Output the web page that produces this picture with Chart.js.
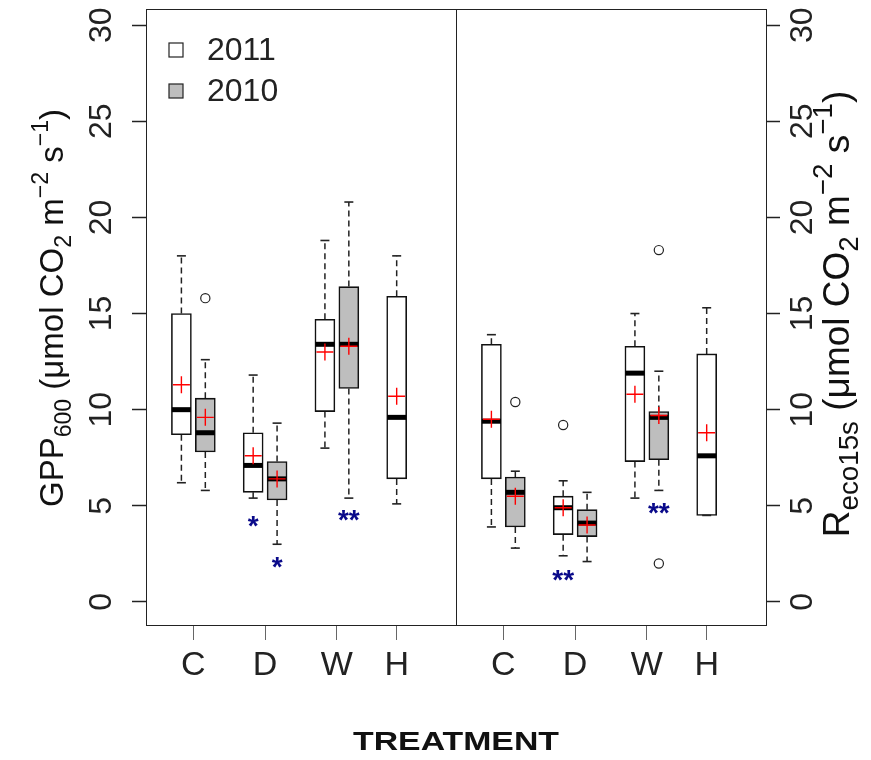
<!DOCTYPE html>
<html>
<head>
<meta charset="utf-8">
<script src="https://cdn.jsdelivr.net/npm/chart.js@4.4.1/dist/chart.umd.min.js"></script>
<style>
html, body { margin: 0; padding: 0; background: #ffffff; }
#wrap { position: relative; width: 871px; height: 760px; }
</style>
</head>
<body>
<div id="wrap"><canvas id="chart"></canvas></div>
<script>
// ---------------- data ----------------
const categories = ['C', 'D', 'W', 'H'];
const seriesLabels = ['2011', '2010'];
const yTickValues = [0, 5, 10, 15, 20, 25, 30];

// GPP600 panel: [lower whisker, Q1, median, Q3, upper whisker] per treatment
const gpp2011Box = [[6.2, 8.7, 10.0, 15.0, 18.0], [5.4, 5.7, 7.1, 8.8, 11.8], [8.0, 9.9, 13.4, 14.7, 18.8], [5.1, 6.4, 9.6, 15.9, 18.0]];
const gpp2010Box = [[5.8, 7.8, 8.8, 10.6, 12.6], [3.0, 5.3, 6.4, 7.3, 9.3], [5.4, 11.1, 13.4, 16.4, 20.8], null];
const gpp2011Mean = [11.3, 7.6, 13.0, 10.7];
const gpp2010Mean = [9.6, 6.4, 13.3, null];
const gpp2011Outliers = [[], [], [], []];
const gpp2010Outliers = [[15.8], [], [], []];
const gpp2011Stars = ['', '*', '', ''];
const gpp2010Stars = ['', '*', '**', ''];
const gpp2011StarY = [null, 4.3, null, null];
const gpp2010StarY = [null, 2.2, 4.6, null];

// Reco15s panel
const reco2011Box = [[3.9, 6.4, 9.4, 13.4, 13.9], [2.4, 3.5, 4.9, 5.5, 6.3], [5.4, 7.3, 11.9, 13.3, 15.0], [4.5, 4.5, 7.6, 12.9, 15.3]];
const reco2010Box = [[2.8, 3.9, 5.7, 6.5, 6.8], [2.1, 3.4, 4.1, 4.8, 5.7], [5.8, 7.4, 9.6, 9.9, 12.0], null];
const reco2011Mean = [9.5, 4.9, 10.8, 8.8];
const reco2010Mean = [5.5, 4.0, 9.7, null];
const reco2011Outliers = [[], [9.2], [], []];
const reco2010Outliers = [[10.4], [], [2.0, 18.3], []];
const reco2011Stars = ['', '**', '', ''];
const reco2010Stars = ['', '', '**', ''];
const reco2011StarY = [null, 1.5, null, null];
const reco2010StarY = [null, null, 5.0, null];

// ---------------- layout / style ----------------
const FONT = '"Liberation Sans", Arimo, Arial, Helvetica, sans-serif';
const PANEL_SPAN = 12.96;
const X_MIN = -0.48;
const X_MAX = X_MIN + 2 * PANEL_SPAN;
const Y_MIN = -1.2;
const Y_MAX = 30.84;
const FILLS = ['#ffffff', '#bebebe'];

const panelBoxes = [[gpp2011Box, gpp2010Box], [reco2011Box, reco2010Box]];
const panelMeans = [[gpp2011Mean, gpp2010Mean], [reco2011Mean, reco2010Mean]];
const panelOutliers = [[gpp2011Outliers, gpp2010Outliers], [reco2011Outliers, reco2010Outliers]];
const panelStars = [[gpp2011Stars, gpp2010Stars], [reco2011Stars, reco2010Stars]];
const panelStarY = [[gpp2011StarY, gpp2010StarY], [reco2011StarY, reco2010StarY]];

function xPos(p, c, s) { return p * PANEL_SPAN + c * 3 + 1 + s; }

const boxData = [[], []];
const whiskerData = [];
const capData = [];
const medianData = [];
const meanData = [];
const outlierData = [];
const starItems = [];
const xTickValues = [];
const xTickLabels = [];

for (let p = 0; p < 2; p++) {
  for (let c = 0; c < categories.length; c++) {
    const has2010 = !!panelBoxes[p][1][c];
    xTickValues.push(xPos(p, c, 0) + (has2010 ? 0.5 : 0));
    xTickLabels.push(categories[c]);
    for (let s = 0; s < 2; s++) {
      const b = panelBoxes[p][s][c];
      if (!b) continue;
      const x = xPos(p, c, s);
      boxData[s].push({ x, y: [b[1], b[3]] });
      whiskerData.push({ x, y: b[3] }, { x, y: b[4] }, { x, y: null },
                       { x, y: b[1] }, { x, y: b[0] }, { x, y: null });
      capData.push({ x, y: b[0] }, { x, y: b[4] });
      medianData.push({ x, y: b[2] });
      const m = panelMeans[p][s][c];
      if (m !== null) meanData.push({ x, y: m });
      panelOutliers[p][s][c].forEach(v => outlierData.push({ x, y: v }));
      const st = panelStars[p][s][c];
      if (st) starItems.push({ x, y: panelStarY[p][s][c], text: st });
    }
  }
}

// ---------------- custom drawing plugin ----------------
function drawRich(ctx, parts, base, cx, cy, rot) {
  ctx.save();
  ctx.translate(cx, cy);
  ctx.rotate(rot);
  ctx.textAlign = 'left';
  ctx.textBaseline = 'alphabetic';
  ctx.fillStyle = '#111';
  const widths = parts.map(pt => { ctx.font = `${base * pt.s}px ${FONT}`; return ctx.measureText(pt.t).width; });
  const total = widths.reduce((a, b) => a + b, 0);
  let x = -total / 2;
  parts.forEach((pt, i) => {
    ctx.font = `${base * pt.s}px ${FONT}`;
    ctx.fillText(pt.t, x, pt.dy * base);
    x += widths[i];
  });
  ctx.restore();
}

const leftTitle = [
  { t: 'GPP', s: 1, dy: 0 }, { t: '600', s: 0.7, dy: 0.25 },
  { t: ' (\u03bcmol CO', s: 1, dy: 0 }, { t: '2', s: 0.7, dy: 0.25 },
  { t: ' m', s: 1, dy: 0 }, { t: '\u22122', s: 0.7, dy: -0.45 },
  { t: ' s', s: 1, dy: 0 }, { t: '\u22121', s: 0.7, dy: -0.45 },
  { t: ')', s: 1, dy: 0 }
];
const rightTitle = [
  { t: 'R', s: 1, dy: 0 }, { t: 'eco15s', s: 0.75, dy: 0.25 },
  { t: ' (\u03bcmol CO', s: 1, dy: 0 }, { t: '2', s: 0.75, dy: 0.25 },
  { t: ' m', s: 1, dy: 0 }, { t: '\u22122', s: 0.75, dy: -0.45 },
  { t: ' s', s: 1, dy: 0 }, { t: '\u22121', s: 0.75, dy: -0.45 },
  { t: ')', s: 1, dy: 0 }
];

const decorPlugin = {
  id: 'decor',
  afterDatasetsDraw(chart) {
    const ctx = chart.ctx;
    const xs = chart.scales.x, ys = chart.scales.y;
    // significance stars
    ctx.save();
    ctx.fillStyle = '#0a0a8a';
    ctx.font = `bold 28px ${FONT}`;
    ctx.textAlign = 'center';
    ctx.textBaseline = 'alphabetic';
    starItems.forEach(st => {
      ctx.fillText(st.text, xs.getPixelForValue(st.x), ys.getPixelForValue(st.y) + 16);
    });
    ctx.restore();
  },
  afterDraw(chart) {
    const ctx = chart.ctx;
    const a = chart.chartArea;
    const xs = chart.scales.x;
    // frame and panel divider
    ctx.save();
    ctx.strokeStyle = '#222';
    ctx.lineWidth = 1;
    ctx.strokeRect(Math.round(a.left) + 0.5, Math.round(a.top) + 0.5, Math.round(a.right - a.left), Math.round(a.bottom - a.top));
    const dx = Math.round(xs.getPixelForValue(X_MIN + PANEL_SPAN)) + 0.5;
    ctx.beginPath();
    ctx.moveTo(dx, a.top);
    ctx.lineTo(dx, a.bottom);
    ctx.stroke();
    ctx.restore();

    // legend (inside left panel)
    ctx.save();
    const bars = chart.data.datasets.filter(d => d.type === 'bar');
    bars.forEach((d, i) => {
      const cy = a.top + 41 + i * 41;
      ctx.fillStyle = d.backgroundColor;
      ctx.strokeStyle = '#222';
      ctx.lineWidth = 1.2;
      ctx.fillRect(a.left + 23, cy - 7, 14, 14);
      ctx.strokeRect(a.left + 23, cy - 7, 14, 14);
      ctx.fillStyle = '#222';
      ctx.font = `32px ${FONT}`;
      ctx.textAlign = 'left';
      ctx.textBaseline = 'middle';
      ctx.fillText(d.label, a.left + 61, cy + 1);
    });
    ctx.restore();

    // axis titles
    drawRich(ctx, leftTitle, 33, 63, 308, -Math.PI / 2);
    drawRich(ctx, rightTitle, 37, 849, 314, -Math.PI / 2);
    ctx.save();
    ctx.fillStyle = '#111';
    ctx.font = `bold 26px ${FONT}`;
    ctx.textAlign = 'center';
    ctx.textBaseline = 'alphabetic';
    ctx.translate((a.left + a.right) / 2, 750);
    ctx.scale(1.3, 1);
    ctx.fillText('TREATMENT', 0, 0);
    ctx.restore();
  }
};

// ---------------- chart ----------------
const yAxisCommon = {
  type: 'linear',
  min: Y_MIN,
  max: Y_MAX,
  afterBuildTicks: s => { s.ticks = yTickValues.map(v => ({ value: v })); },
  grid: { drawOnChartArea: false, drawTicks: true, tickLength: 14, tickColor: '#222', tickWidth: 1.5 },
  border: { display: false }
};

new Chart(document.getElementById('chart'), {
  type: 'bar',
  data: {
    datasets: [
      { type: 'bar', label: seriesLabels[0], data: boxData[0], backgroundColor: FILLS[0], borderColor: '#111', borderWidth: 1.6, borderSkipped: false, barThickness: 20, grouped: false, order: 5 },
      { type: 'bar', label: seriesLabels[1], data: boxData[1], backgroundColor: FILLS[1], borderColor: '#111', borderWidth: 1.6, borderSkipped: false, barThickness: 20, grouped: false, order: 5 },
      { type: 'line', label: 'whiskers', data: whiskerData, borderColor: '#222', borderWidth: 1.5, borderDash: [6, 4], pointRadius: 0, spanGaps: false, fill: false, order: 6 },
      { type: 'scatter', label: 'caps', data: capData, pointStyle: 'line', pointRadius: 4.5, pointBorderWidth: 1.6, pointBorderColor: '#222', pointBackgroundColor: 'rgba(0,0,0,0)', borderColor: '#222', order: 4 },
      { type: 'scatter', label: 'medians', data: medianData, pointStyle: 'line', pointRadius: 9.5, pointBorderWidth: 5, pointBorderColor: '#000', pointBackgroundColor: 'rgba(0,0,0,0)', borderColor: '#000', order: 3 },
      { type: 'scatter', label: 'outliers', data: outlierData, pointStyle: 'circle', pointRadius: 4.6, pointBorderWidth: 1.2, pointBorderColor: '#222', pointBackgroundColor: 'rgba(0,0,0,0)', borderColor: '#222', order: 2 },
      { type: 'scatter', label: 'means', data: meanData, pointStyle: 'cross', pointRadius: 8.5, pointBorderWidth: 1.4, pointBorderColor: '#ff0000', pointBackgroundColor: 'rgba(0,0,0,0)', borderColor: '#ff0000', order: 1 }
    ]
  },
  options: {
    responsive: true,
    maintainAspectRatio: false,
    devicePixelRatio: 1,
    animation: false,
    events: [],
    layout: { padding: { top: 9, left: 0, right: 0, bottom: 0 }, autoPadding: false },
    plugins: { legend: { display: false }, tooltip: { enabled: false } },
    scales: {
      x: {
        type: 'linear',
        min: X_MIN,
        max: X_MAX,
        offset: false,
        afterBuildTicks: s => { s.ticks = xTickValues.map(v => ({ value: v })); },
        afterFit: s => { s.height = 135; s.paddingLeft = 0; s.paddingRight = 0; },
        ticks: { autoSkip: false, maxRotation: 0, minRotation: 0, padding: 5, color: '#222', font: { family: FONT, size: 34 }, callback: (v, i) => xTickLabels[i] },
        grid: { offset: false, drawOnChartArea: false, drawTicks: true, tickLength: 15, tickColor: '#666', tickWidth: 1 },
        border: { display: false }
      },
      y: Object.assign({}, yAxisCommon, {
        position: 'left',
        afterFit: s => { s.width = 146; s.paddingTop = 0; s.paddingBottom = 0; },
        ticks: { autoSkip: false, minRotation: 90, maxRotation: 90, crossAlign: 'center', padding: 12, color: '#222', font: { family: FONT, size: 32 } }
      }),
      y2: Object.assign({}, yAxisCommon, {
        axis: 'y',
        position: 'right',
        afterFit: s => { s.width = 105; s.paddingTop = 0; s.paddingBottom = 0; },
        ticks: { autoSkip: false, minRotation: 90, maxRotation: 90, crossAlign: 'center', padding: 5, color: '#222', font: { family: FONT, size: 32 } }
      })
    }
  },
  plugins: [decorPlugin]
});
</script>
</body>
</html>
